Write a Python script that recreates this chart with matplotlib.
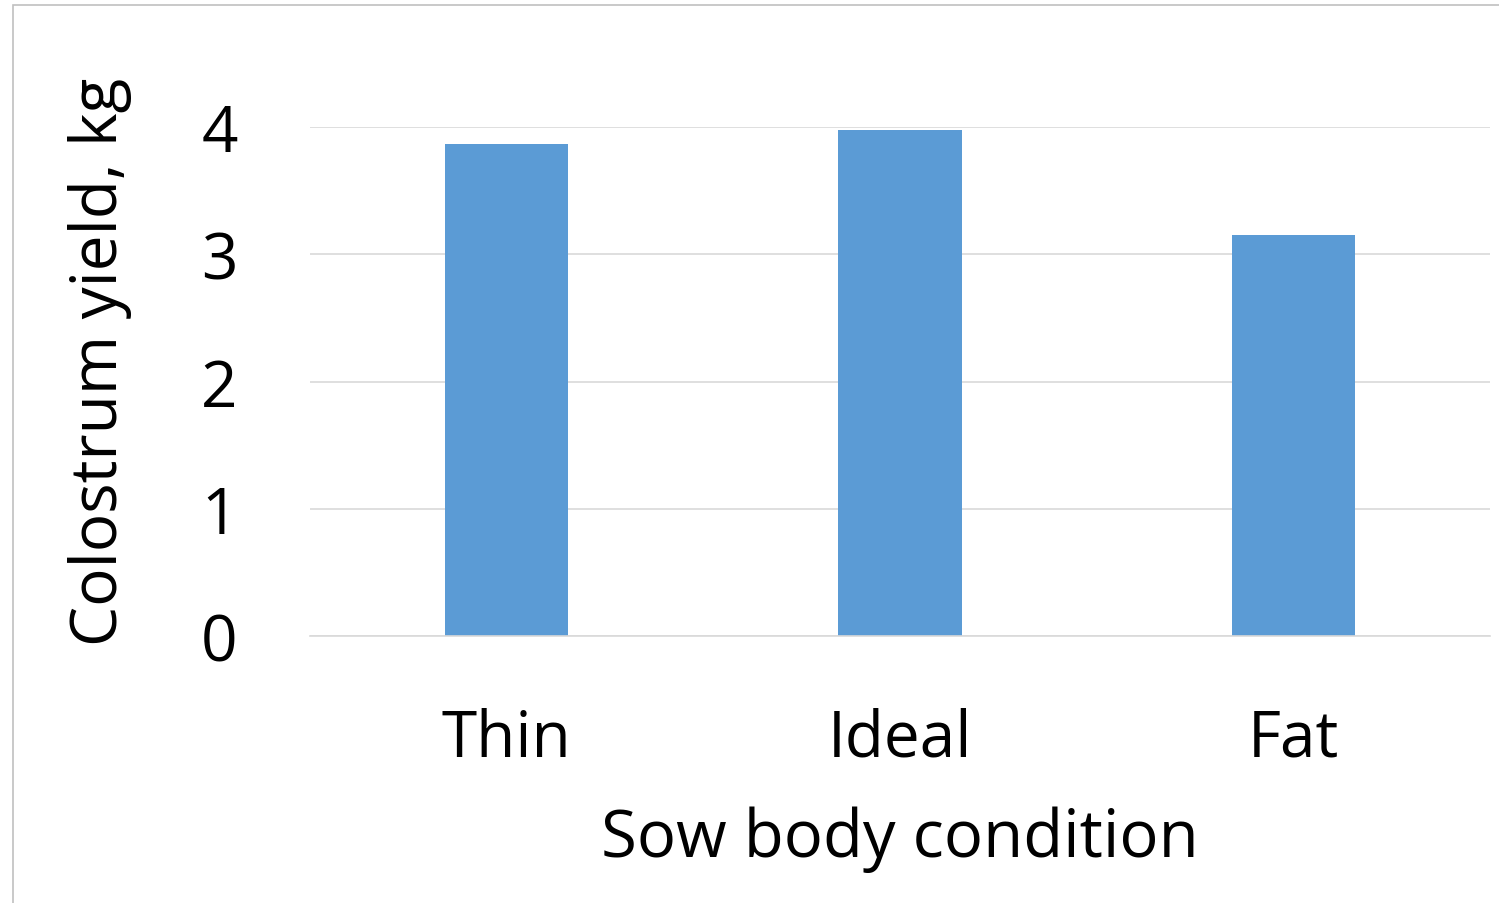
import matplotlib
matplotlib.use("Agg")
import matplotlib.pyplot as plt
from matplotlib.patches import Rectangle

categories = ["Thin", "Ideal", "Fat"]
values = [3.87, 3.98, 3.15]
yticks = [0, 1, 2, 3, 4]

plt.rcParams['font.family'] = ['Open Sans', 'DejaVu Sans']

W, H = 1499, 904
fig = plt.figure(figsize=(W/100, H/100), dpi=100)
fig.patch.set_facecolor('white')
fig.patches.append(Rectangle((13/W, -0.1), 1.2, (904-6)/H + 0.1, transform=fig.transFigure,
                             fill=False, edgecolor='#C0C0C0', linewidth=1.2, zorder=0))

ax = fig.add_axes([310/W, (H-637)/H, (1490-310)/W, (637-128)/H])
x = range(len(categories))
ax.bar(x, values, width=0.313, color='#5B9BD5', zorder=2)
ax.set_xlim(-0.5, 2.5)
ax.set_ylim(0, 4)
ax.set_yticks(yticks)
ax.set_yticklabels([str(t) for t in yticks])
ax.set_xticks(list(x))
ax.set_xticklabels(categories)
ax.grid(axis='y', color='#D9D9D9', linewidth=1.2, zorder=0)
for s in ['top', 'right', 'left']:
    ax.spines[s].set_visible(False)
ax.spines['bottom'].set_color('#D9D9D9')
ax.spines['bottom'].set_linewidth(1.2)
ax.tick_params(axis='both', length=0, labelsize=46, colors='black')
ax.tick_params(axis='y', pad=52)
ax.tick_params(axis='x', pad=51)
ax.set_xlabel('Sow body condition', fontsize=47, labelpad=25)
ax.set_ylabel('Colostrum yield, kg', fontsize=46)
ax.yaxis.set_label_coords(-0.151, 0.540)
fig.savefig('out.png', dpi=100)
